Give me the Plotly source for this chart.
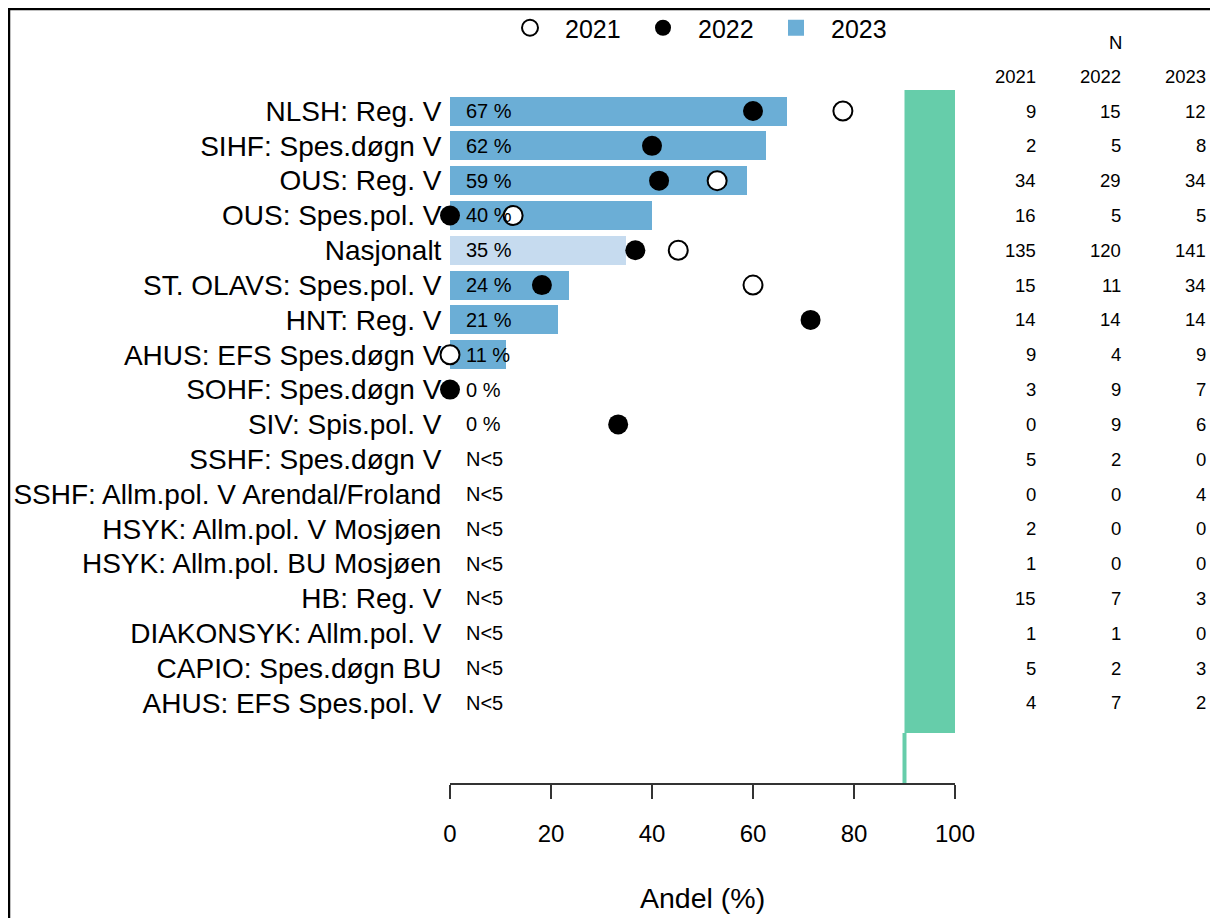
import plotly.graph_objects as go

categories = [
    "NLSH: Reg. V", "SIHF: Spes.døgn V", "OUS: Reg. V", "OUS: Spes.pol. V",
    "Nasjonalt", "ST. OLAVS: Spes.pol. V", "HNT: Reg. V", "AHUS: EFS Spes.døgn V",
    "SOHF: Spes.døgn V", "SIV: Spis.pol. V", "SSHF: Spes.døgn V",
    "SSHF: Allm.pol. V Arendal/Froland", "HSYK: Allm.pol. V Mosjøen",
    "HSYK: Allm.pol. BU Mosjøen", "HB: Reg. V", "DIAKONSYK: Allm.pol. V",
    "CAPIO: Spes.døgn BU", "AHUS: EFS Spes.pol. V",
]
pct_2023 = [66.7, 62.5, 58.8, 40.0, 34.8, 23.5, 21.4, 11.1, 0.0, 0.0,
            None, None, None, None, None, None, None, None]
pct_2022 = [60.0, 40.0, 41.4, 0.0, 36.7, 18.2, 71.4, None, 0.0, 33.3,
            None, None, None, None, None, None, None, None]
pct_2021 = [77.8, None, 52.9, 12.5, 45.2, 60.0, None, 0.0, None, None,
            None, None, None, None, None, None, None, None]
n_2021 = [9, 2, 34, 16, 135, 15, 14, 9, 3, 0, 5, 0, 2, 1, 15, 1, 5, 4]
n_2022 = [15, 5, 29, 5, 120, 11, 14, 4, 9, 9, 2, 0, 0, 0, 7, 1, 2, 7]
n_2023 = [12, 8, 34, 5, 141, 34, 14, 9, 7, 6, 0, 4, 0, 0, 3, 0, 3, 2]
years = ["2021", "2022", "2023"]
target = 90

# page has an 8px body margin; work in screen coords of the reference
OFF = 8
W, H = 1218 - OFF, 918 - OFF
PL, PR, PT, PB = 450, 955, 80, 783          # plot area in screen px
ML, MR, MT, MB = PL - OFF, W - (PR - OFF), PT - OFF, H - (PB - OFF)
n = len(categories)
ypos = [n - 1 - i for i in range(n)]
row_px = 34.82
y_top_px = 111
y_lo = (n - 1) - (PB - y_top_px) / row_px
y_hi = (n - 1) + (y_top_px - PT) / row_px


def px_x(px):
    return (px - PL) / (PR - PL)


def px_y(py):
    return 1 - (py - PT) / (PB - PT)


def row_y(py):
    return (n - 1) + (y_top_px - py) / row_px


FONT = "Liberation Sans, Arial, Helvetica, sans-serif"
BLUE = "#6BAED6"
LIGHT = "#C6DBEF"
GREEN = "#66CDAA"

bar_colors = [LIGHT if c == "Nasjonalt" else BLUE for c in categories]

fig = go.Figure()
fig.add_trace(go.Bar(
    x=[v if v is not None else 0 for v in pct_2023], y=ypos, orientation="h",
    width=0.833, marker=dict(color=bar_colors, line=dict(width=0)),
    name="2023", legendgroup="2023", showlegend=False, hoverinfo="skip",
))
fig.add_trace(go.Scatter(
    x=pct_2021, y=ypos, mode="markers", name="2021", legendrank=1,
    marker=dict(symbol="circle", size=19, color="white",
                line=dict(color="black", width=2)),
    cliponaxis=False, hoverinfo="skip",
))
fig.add_trace(go.Scatter(
    x=pct_2022, y=ypos, mode="markers", name="2022", legendrank=2,
    marker=dict(symbol="circle", size=20, color="black",
                line=dict(color="black", width=0)),
    cliponaxis=False, hoverinfo="skip",
))
# legend entry for the 2023 bars (square swatch)
fig.add_trace(go.Scatter(
    x=[None], y=[None], mode="markers", name="2023", legendgroup="2023", legendrank=3,
    marker=dict(symbol="square", size=16, color=BLUE, line=dict(width=0)),
    hoverinfo="skip",
))

annotations = []
for i, (v, nn) in enumerate(zip(pct_2023, n_2023)):
    txt = f"{round(v)} %" if (v is not None and nn >= 5) else "N<5"
    annotations.append(dict(
        x=2.8, y=ypos[i], xref="x", yref="y", text=txt, showarrow=False,
        xanchor="left", yanchor="middle", font=dict(size=20, color="black", family=FONT),
    ))

col_right = [1038, 1123, 1208]
for col, vals in zip(col_right, [n_2021, n_2022, n_2023]):
    for i, v in enumerate(vals):
        annotations.append(dict(
            x=px_x(col), y=ypos[i], xref="paper", yref="y", text=str(v), showarrow=False,
            xanchor="right", yanchor="middle", font=dict(size=18.5, color="black", family=FONT),
        ))
for col, yr in zip(col_right, years):
    annotations.append(dict(
        x=px_x(col), y=px_y(77), xref="paper", yref="paper", text=yr,
        showarrow=False, xanchor="right", yanchor="middle",
        font=dict(size=18.5, color="black", family=FONT),
    ))
annotations.append(dict(
    x=px_x(1115), y=px_y(42), xref="paper", yref="paper", text="N",
    showarrow=False, xanchor="center", yanchor="middle",
    font=dict(size=18.5, color="black", family=FONT),
))
annotations.append(dict(
    x=0.5, y=px_y(898), xref="paper", yref="paper", text="Andel (%)", showarrow=False,
    xanchor="center", yanchor="middle", font=dict(size=28.5, color="black", family=FONT),
))

shapes = [
    dict(type="rect", xref="x", yref="y", x0=target, x1=100,
         y0=row_y(733), y1=row_y(90),
         fillcolor=GREEN, line=dict(width=0), layer="below"),
    dict(type="line", xref="x", yref="y", x0=target, x1=target,
         y0=y_lo, y1=row_y(733),
         line=dict(color=GREEN, width=4), layer="below"),
    dict(type="line", xref="paper", yref="paper", x0=px_x(8), x1=px_x(1218),
         y0=px_y(9), y1=px_y(9), line=dict(color="black", width=2.5)),
    dict(type="line", xref="paper", yref="paper", x0=px_x(9), x1=px_x(9),
         y0=px_y(9), y1=px_y(918), line=dict(color="black", width=2.5)),
]

fig.update_layout(
    width=W, height=H, margin=dict(l=ML, r=MR, t=MT, b=MB, autoexpand=False),
    plot_bgcolor="white", paper_bgcolor="white",
    font=dict(family=FONT, color="black"),
    barmode="overlay", bargap=0,
    showlegend=True,
    legend=dict(orientation="h", x=px_x(495), y=px_y(28), xanchor="left", yanchor="middle",
                itemwidth=60, entrywidth=58, entrywidthmode="pixels", itemsizing="trace",
                font=dict(size=25, family=FONT, color="black"),
                bgcolor="rgba(0,0,0,0)", traceorder="normal"),
    annotations=annotations, shapes=shapes,
    xaxis=dict(range=[0, 100], tickvals=[0, 20, 40, 60, 80, 100], ticks="outside",
               ticklen=14, tickwidth=1.5, tickcolor="#333", showline=True,
               linecolor="#333", linewidth=1.5, showgrid=False, zeroline=False,
               tickfont=dict(size=24, family=FONT, color="black"), ticklabelstandoff=14,
               fixedrange=True),
    yaxis=dict(range=[y_lo, y_hi], tickvals=ypos, ticktext=categories,
               ticks="outside", ticklen=2, tickcolor="rgba(0,0,0,0)",
               showline=False, showgrid=False, zeroline=False,
               tickfont=dict(size=28, family=FONT, color="black"), fixedrange=True),
)

fig.write_html("out.html")
